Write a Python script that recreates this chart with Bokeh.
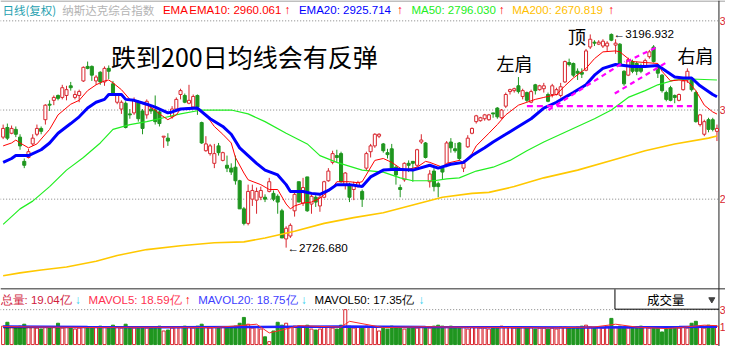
from bokeh.plotting import figure
from bokeh.models import Range1d, ColumnDataSource
from bokeh.embed import file_html
from bokeh.resources import INLINE
from bokeh.core.properties import value

# ---------------- data ----------------
open_ = [
    2969.3, 2990.5, 2977.8, 2986.3, 2969.3, 2916.1, 2924.6, 2954.4, 2975.6, 2988.4,
    3007.6, 3041.6, 3050.1, 3060.8, 3056.5, 3060.8, 3082.0, 3056.5, 3060.8, 3092.7,
    3124.6, 3124.6, 3092.7, 3111.8, 3090.5, 3120.3, 3086.3, 3045.9, 3031.0, 3043.7,
    3020.3, 3022.5, 3045.9, 3026.7, 3018.2, 3031.0, 3028.8, 3024.6, 2969.3, 2967.1,
    3013.9, 3031.0, 3062.9, 3060.8, 3043.7, 3035.2, 3060.8, 3001.2, 2939.5, 2933.1,
    2911.8, 2950.1, 2918.2, 2907.5, 2901.2, 2903.3, 2873.5, 2811.8, 2779.9, 2833.1,
    2830.9, 2837.3, 2837.3, 2850.1, 2845.8, 2839.4, 2807.5, 2745.8, 2752.2, 2807.5,
    2871.4, 2824.5, 2882.0, 2822.4, 2837.3, 2818.2, 2837.3, 2873.5, 2913.9, 2928.8,
    2933.1, 2865.0, 2865.0, 2854.3, 2860.7, 2850.1, 2901.2, 2937.3, 2950.1, 2971.4,
    2954.4, 2935.2, 2943.7, 2903.3, 2858.6, 2875.6, 2911.8, 2916.1, 2907.5, 2958.6,
    2956.5, 2871.4, 2894.8, 2867.1, 2901.2, 2907.5, 2958.6, 2943.7, 2956.5, 2901.2,
    2948.0, 2977.8, 3003.3, 3005.4, 3009.7, 3007.6, 3022.5, 3033.1, 3011.8, 3037.3,
    3069.3, 3071.4, 3082.0, 3058.6, 3067.1, 3045.9, 3084.2, 3073.5, 3075.6, 3062.9,
    3062.9, 3062.9, 3060.8, 3090.5, 3133.1, 3131.0, 3113.9, 3111.8, 3116.1, 3167.2,
    3177.8, 3173.5, 3169.3, 3169.3, 3194.8, 3171.4, 3173.5, 3113.9, 3105.4, 3135.2,
    3131.0, 3126.7, 3126.7, 3145.9, 3167.2, 3122.5, 3105.4, 3067.1, 3077.8, 3060.8,
    3050.1, 3073.5, 3094.8, 3094.8, 3067.1, 2996.9, 2975.6, 3007.6, 3007.6, 2982.0,
]
high = [
    2996.9, 2999.1, 2994.8, 2992.7, 2975.6, 2922.4, 2943.7, 2975.6, 2996.9, 2992.7,
    3041.6, 3050.1, 3060.8, 3062.9, 3084.2, 3082.0, 3090.5, 3071.4, 3073.5, 3124.6,
    3135.2, 3126.7, 3105.4, 3113.9, 3124.6, 3126.7, 3092.7, 3065.0, 3050.1, 3048.0,
    3031.0, 3056.5, 3050.1, 3031.0, 3052.2, 3037.3, 3060.8, 3028.8, 2971.4, 2977.8,
    3037.3, 3056.5, 3075.6, 3065.0, 3084.2, 3062.9, 3062.9, 3003.3, 2971.4, 2954.4,
    2954.4, 2956.5, 2937.3, 2928.8, 2911.8, 2928.8, 2875.6, 2816.0, 2865.0, 2865.0,
    2858.6, 2860.7, 2843.7, 2879.9, 2852.2, 2843.7, 2811.8, 2773.5, 2779.9, 2848.0,
    2871.4, 2879.9, 2882.0, 2843.7, 2841.6, 2841.6, 2873.5, 2901.2, 2939.5, 2941.6,
    2937.3, 2892.6, 2869.2, 2871.4, 2873.5, 2854.3, 2937.3, 2954.4, 2977.8, 2977.8,
    2956.5, 2943.7, 2954.4, 2907.5, 2865.0, 2913.9, 2918.2, 2916.1, 2943.7, 2975.6,
    2958.6, 2896.9, 2901.2, 2871.4, 2903.3, 2960.7, 2967.1, 2956.5, 2958.6, 2918.2,
    2973.5, 2990.5, 3018.2, 3013.9, 3020.3, 3020.3, 3022.5, 3035.2, 3031.0, 3067.1,
    3075.6, 3077.8, 3101.2, 3075.6, 3069.3, 3073.5, 3086.3, 3084.2, 3088.4, 3067.1,
    3086.3, 3077.8, 3088.4, 3137.4, 3141.6, 3133.1, 3120.3, 3120.3, 3162.9, 3194.8,
    3182.1, 3182.1, 3184.2, 3179.9, 3196.932, 3184.2, 3175.7, 3116.1, 3143.7, 3139.5,
    3135.2, 3131.0, 3141.6, 3160.8, 3171.4, 3128.8, 3107.6, 3071.4, 3082.0, 3062.9,
    3065.0, 3099.1, 3120.3, 3099.1, 3071.4, 3020.3, 3007.6, 3011.8, 3011.8, 2996.9,
]
low = [
    2965.0, 2962.9, 2975.6, 2969.3, 2941.6, 2901.2, 2922.4, 2950.1, 2971.4, 2975.6,
    2996.9, 3026.7, 3039.5, 3050.1, 3052.2, 3050.1, 3071.4, 3052.2, 3045.9, 3090.5,
    3118.2, 3092.7, 3084.2, 3084.2, 3082.0, 3096.9, 3060.8, 3041.6, 3020.3, 2988.4,
    3009.7, 3018.2, 3003.3, 2975.6, 3009.7, 3020.3, 2996.9, 2992.7, 2945.8, 2950.1,
    3009.7, 3026.7, 3052.2, 3043.7, 3041.6, 3031.0, 3018.2, 2954.4, 2937.3, 2928.8,
    2901.2, 2928.8, 2916.1, 2892.6, 2886.3, 2865.0, 2811.8, 2775.6, 2775.6, 2818.2,
    2801.1, 2830.9, 2826.7, 2848.0, 2828.8, 2801.1, 2747.9, 2726.68, 2747.9, 2794.8,
    2826.7, 2818.2, 2805.4, 2801.1, 2816.0, 2805.4, 2835.2, 2871.4, 2909.7, 2913.9,
    2869.2, 2854.3, 2826.7, 2830.9, 2858.6, 2816.0, 2894.8, 2924.6, 2945.8, 2967.1,
    2935.2, 2922.4, 2896.9, 2865.0, 2837.3, 2871.4, 2892.6, 2871.4, 2903.3, 2954.4,
    2922.4, 2858.6, 2850.1, 2837.3, 2875.6, 2903.3, 2935.2, 2935.2, 2918.2, 2892.6,
    2945.8, 2975.6, 2999.1, 3003.3, 3005.4, 3005.4, 3011.8, 3009.7, 3009.7, 3033.1,
    3062.9, 3067.1, 3065.0, 3052.2, 3045.9, 3043.7, 3062.9, 3071.4, 3067.1, 3045.9,
    3056.5, 3060.8, 3056.5, 3088.4, 3124.6, 3101.2, 3094.8, 3099.1, 3113.9, 3162.9,
    3169.3, 3171.4, 3165.0, 3158.6, 3179.9, 3152.3, 3124.6, 3082.0, 3103.3, 3109.7,
    3105.4, 3109.7, 3124.6, 3141.6, 3133.1, 3099.1, 3067.1, 3048.0, 3048.0, 3043.7,
    3048.0, 3071.4, 3088.4, 3069.3, 3001.2, 2992.7, 2971.4, 2979.9, 2982.0, 2960.7,
]
close = [
    2988.4, 2967.1, 2988.4, 2975.6, 2950.1, 2907.5, 2937.3, 2967.1, 2988.4, 2982.0,
    3039.5, 3039.5, 3056.5, 3054.4, 3077.8, 3073.5, 3077.8, 3062.9, 3069.3, 3122.5,
    3120.3, 3105.4, 3101.2, 3090.5, 3120.3, 3113.9, 3065.0, 3060.8, 3045.9, 2990.5,
    3018.2, 3050.1, 3009.7, 2988.4, 3048.0, 3026.7, 3003.3, 2999.1, 2971.4, 2960.7,
    3031.0, 3052.2, 3071.4, 3045.9, 3050.1, 3058.6, 3035.2, 2956.5, 2954.4, 2950.1,
    2933.1, 2935.2, 2935.2, 2901.2, 2892.6, 2873.5, 2811.8, 2779.9, 2850.1, 2852.2,
    2850.1, 2852.2, 2833.1, 2871.4, 2833.1, 2826.7, 2747.9, 2769.2, 2775.6, 2843.7,
    2826.7, 2858.6, 2807.5, 2839.4, 2826.7, 2837.3, 2871.4, 2894.8, 2933.1, 2924.6,
    2871.4, 2890.5, 2837.3, 2865.0, 2869.2, 2833.1, 2933.1, 2950.1, 2975.6, 2975.6,
    2939.5, 2930.9, 2901.2, 2886.3, 2854.3, 2911.8, 2907.5, 2911.8, 2941.6, 2962.9,
    2924.6, 2888.4, 2860.7, 2860.7, 2892.6, 2956.5, 2945.8, 2939.5, 2922.4, 2911.8,
    2967.1, 2988.4, 3016.1, 3011.8, 3018.2, 3018.2, 3020.3, 3013.9, 3028.8, 3062.9,
    3073.5, 3075.6, 3069.3, 3071.4, 3050.1, 3069.3, 3071.4, 3082.0, 3082.0, 3048.0,
    3082.0, 3073.5, 3079.9, 3135.2, 3128.8, 3105.4, 3109.7, 3107.6, 3158.6, 3184.2,
    3175.7, 3177.8, 3179.9, 3175.7, 3182.1, 3175.7, 3126.7, 3086.3, 3139.5, 3113.9,
    3113.9, 3113.9, 3137.4, 3156.5, 3135.2, 3109.7, 3071.4, 3052.2, 3050.1, 3056.5,
    3062.9, 3092.7, 3113.9, 3073.5, 3003.3, 3018.2, 3003.3, 2986.3, 2986.3, 2988.4,
]
# volume in 亿
volume = [
    19, 23, 18, 17, 19, 21, 18, 18, 17, 16,
    18, 17, 18, 22, 17, 18, 17, 16, 17, 18,
    17, 18, 18, 19, 18, 17, 20, 18, 17, 21,
    17, 17, 18, 18, 17, 18, 18, 19, 14, 15,
    17, 18, 18, 19, 18, 17, 19, 21, 18, 17,
    18, 17, 18, 17, 18, 19, 22, 28, 21, 17,
    18, 16, 8, 3, 14, 23, 20, 22, 18, 19,
    19, 18, 20, 16, 15, 16, 18, 18, 17, 16,
    20, 36, 19, 17, 18, 17, 19, 18, 18, 14,
    17, 16, 19, 18, 17, 16, 17, 18, 17, 18,
    18, 17, 19, 20, 19, 18, 19, 18, 17, 18,
    16, 18, 18, 17, 17, 16, 18, 17, 19, 18,
    18, 17, 18, 18, 17, 18, 16, 17, 17, 16,
    17, 16, 18, 18, 17, 17, 18, 19, 20, 18,
    17, 18, 17, 19, 27, 18, 19, 18, 17, 17,
    18, 19, 18, 17, 18, 17, 13, 18, 18, 17,
    17, 18, 17, 22, 24, 18, 17, 20, 18, 19,
]

# moving-average lines read at selected bars
ema10_idx = [0, 2, 3, 4, 6, 8, 9, 11, 13, 16, 18, 20, 22, 24, 25, 26, 28, 30, 32, 34, 36, 37, 39, 41, 42, 45, 48, 50,
             52, 54, 55, 57, 58, 61, 63, 65, 67, 68, 69, 71, 73, 75, 78, 79, 82, 84, 85, 88, 90, 92, 94, 95, 98, 100,
             101, 104, 105, 108, 109, 111, 112, 115, 117, 119, 122, 124, 126, 128, 131, 133, 135, 138, 140, 142, 145,
             146, 148, 149, 152, 155, 156, 158, 160, 162, 164, 166, 168, 169]
ema10_val = [2950.1, 2956.5, 2962.9, 2956.5, 2945.8, 2954.4, 2965.0, 2986.3, 3018.2, 3041.6, 3050.1, 3071.4, 3084.2,
             3092.7, 3094.8, 3088.4, 3073.5, 3052.2, 3045.9, 3039.5, 3028.8, 3020.3, 3007.6, 3018.2, 3031.0, 3035.2,
             3018.2, 2992.7, 2975.6, 2956.5, 2924.6, 2890.5, 2875.6, 2865.0, 2854.3, 2854.3, 2822.4, 2811.8, 2818.2,
             2824.5, 2826.7, 2835.2, 2858.6, 2871.4, 2871.4, 2869.2, 2871.4, 2918.2, 2922.4, 2913.9, 2901.2, 2896.9,
             2903.3, 2916.1, 2913.9, 2903.3, 2911.8, 2918.2, 2913.9, 2933.1, 2950.1, 2977.8, 2996.9, 3018.2, 3039.5,
             3045.9, 3052.2, 3056.5, 3062.9, 3082.0, 3099.1, 3120.3, 3141.6, 3156.5, 3158.6, 3156.5, 3141.6, 3135.2,
             3133.1, 3131.0, 3113.9, 3092.7, 3094.8, 3092.7, 3071.4, 3039.5, 3024.6, 3020.0]
ema20_idx = [0, 2, 3, 6, 9, 11, 13, 16, 18, 20, 22, 24, 25, 28, 29, 31, 34, 36, 39, 40, 42, 46, 49, 52, 54, 56, 58,
             60, 62, 65, 67, 68, 71, 73, 75, 77, 79, 82, 85, 87, 90, 93, 97, 101, 103, 106, 109, 111, 114, 116, 119,
             122, 125, 128, 131, 133, 135, 138, 140, 142, 145, 147, 149, 152, 155, 157, 159, 161, 163, 165, 168, 169]
ema20_val = [2913.9, 2922.4, 2928.8, 2928.8, 2941.6, 2956.5, 2977.8, 2999.1, 3013.9, 3033.1, 3045.9, 3052.2, 3062.9,
             3062.9, 3052.2, 3050.1, 3041.6, 3035.2, 3022.5, 3024.6, 3031.0, 3033.1, 3009.7, 2992.7, 2975.6, 2945.8,
             2928.8, 2911.8, 2896.9, 2886.3, 2865.0, 2850.1, 2850.1, 2845.8, 2843.7, 2852.2, 2865.0, 2865.0, 2860.7,
             2882.0, 2896.9, 2899.0, 2896.9, 2907.5, 2901.2, 2909.7, 2913.9, 2928.8, 2945.8, 2958.6, 2975.6, 2992.7,
             3009.7, 3033.1, 3045.9, 3056.5, 3067.1, 3084.2, 3105.4, 3120.3, 3128.8, 3126.7, 3124.6, 3124.6, 3126.7,
             3113.9, 3101.2, 3099.1, 3099.1, 3082.0, 3062.9, 3058.0]
ma50_idx = [0, 4, 7, 11, 15, 19, 23, 26, 30, 34, 38, 42, 47, 54, 58, 62, 67, 72, 75, 79, 85, 90, 94, 97, 102, 105,
            108, 112, 116, 120, 124, 128, 132, 136, 140, 144, 148, 152, 155, 159, 163, 169]
ma50_val = [2777.7, 2811.8, 2828.8, 2860.7, 2896.9, 2924.6, 2956.5, 2986.3, 2996.9, 3003.3, 3011.8, 3020.3, 3028.8,
            3028.8, 3020.3, 3003.3, 2977.8, 2954.4, 2928.8, 2913.9, 2896.9, 2892.6, 2879.9, 2873.5, 2873.5, 2877.7,
            2879.9, 2894.8, 2903.3, 2918.2, 2939.5, 2958.6, 2975.6, 2992.7, 3009.7, 3028.8, 3056.5, 3071.4, 3084.2,
            3094.8, 3096.9, 3094.8]
ma200_idx = [0, 4, 9, 15, 22, 27, 34, 42, 50, 57, 62, 69, 76, 83, 90, 97, 104, 111, 115, 121, 128, 136, 144, 152,
             159, 167, 169]
ma200_val = [2665.0, 2671.3, 2677.7, 2684.1, 2696.9, 2709.6, 2722.4, 2730.9, 2737.3, 2739.4, 2747.9, 2762.8, 2779.9,
             2792.6, 2803.3, 2820.3, 2837.3, 2845.8, 2848.0, 2860.7, 2879.9, 2896.9, 2918.2, 2939.5, 2954.4, 2967.1,
             2972.0]

mavol5_idx = [0, 10, 20, 30, 40, 50, 56, 60, 63, 66, 70, 80, 82, 90, 100, 110, 120, 130, 140, 145, 150, 157, 160, 166, 169]
mavol5_val = [18.6, 18.0, 17.6, 17.8, 17.8, 17.6, 19.5, 21.0, 12.0, 15.0, 19.5, 18.0, 24.0, 17.5, 18.4, 17.8, 17.6,
              17.2, 18.2, 21.0, 18.0, 16.5, 17.5, 20.0, 19.5]
mavol20_idx = [0, 20, 40, 60, 80, 100, 120, 140, 160, 169]
mavol20_val = [18.75, 18.0, 17.8, 18.2, 18.6, 18.0, 17.9, 17.6, 18.0, 18.4]
mavol50_idx = [0, 40, 80, 120, 169]
mavol50_val = [17.35, 17.8, 17.9, 17.6, 17.7]

price_grid = [3224.6, 3028.8, 2833.1]
price_grid_marks = ["3", "3", "2"]
vol_grid = [36.0]
vol_marks_at = [36.0, 18.0]
vol_marks = ["3", "1"]

hi_idx, hi_val = 144, 3196.932
lo_idx, lo_val = 67, 2726.680

neck_x = [124.0, 163.1]
neck_y = [3037.3, 3037.3]
chan_x0 = [129.1, 144.8, 147.6]
chan_y0 = [3028.8, 3065.0, 3135.2]
chan_x1 = [147.2, 157.4, 155.3]
chan_y1 = [3135.2, 3135.2, 3169.3]

# ---------------- layout ----------------
W, H = 725, 346
RW, RH = 741, 357  # layout space (px)
BORDER_PX = 734.3
BORDER_I = 169.46

RED = "#d8262e"
GREEN = "#1f961f"

p = figure(width=W, height=H, output_backend="svg", toolbar_location=None,
           x_range=Range1d(-0.6254, 171.02), y_range=Range1d(2509.6, 3269.3),
           x_axis_location=None, y_axis_location=None, min_border=0,
           outline_line_color=None, background_fill_color="white", border_fill_color="white")
p.grid.visible = False
p.extra_x_ranges = {"px": Range1d(0, RW)}
p.extra_y_ranges = {"py": Range1d(RH, 0), "vol": Range1d(-2, 355)}

LAT = "Liberation Sans"
CJK = "Noto Sans CJK SC"


def ptext(xs, ys, texts, colors, size, font=LAT, align="left", baseline="middle", style="normal"):
    src = ColumnDataSource(dict(x=xs, y=ys, t=texts, c=colors))
    p.text(x="x", y="y", text="t", text_color="c", source=src, x_range_name="px", y_range_name="py",
           text_font=value(font), text_font_size=value(size), text_align=align,
           text_baseline=baseline, text_font_style=style)


# frame lines
p.segment(x0=[0, 0, BORDER_PX], y0=[0.5, 297.5, 0], x1=[741, 741, BORDER_PX], y1=[0.5, 297.5, 357],
          line_color=["#808080", "#707070", "#202020"], line_width=[1.2, 1.5, 1],
          x_range_name="px", y_range_name="py")

# dotted grid
p.segment(x0=[-0.7] * len(price_grid), x1=[BORDER_I] * len(price_grid), y0=price_grid, y1=price_grid,
          line_color="#808080", line_width=1, line_dash="1 2")
p.segment(x0=[-0.7] * len(vol_grid), x1=[BORDER_I] * len(vol_grid), y0=vol_grid, y1=vol_grid,
          line_color="#808080", line_width=1, line_dash="1 2", y_range_name="vol")

# candles
n = len(close)
idx = list(range(n))
up = [c >= o for o, c in zip(open_, close)]
src = ColumnDataSource(dict(
    x=idx, h=high, l=low,
    top=[max(a, b) for a, b in zip(open_, close)],
    bot=[min(a, b) for a, b in zip(open_, close)],
    col=[RED if u else GREEN for u in up],
    fill=["white" if u else GREEN for u in up],
    vol=volume,
))
p.segment(x0="x", y0="l", x1="x", y1="h", line_color="col", line_width=1, source=src)
p.vbar(x="x", width=0.72, top="top", bottom="bot", fill_color="fill", line_color="col", line_width=1, source=src)

# volume bars
p.vbar(x="x", width=0.72, top="vol", bottom=0, fill_color="fill", line_color="col", line_width=1,
       source=src, y_range_name="vol")
p.line(mavol50_idx, mavol50_val, line_color="#000000", line_width=1, y_range_name="vol")
p.line(mavol20_idx, mavol20_val, line_color="#2020ff", line_width=2.5, y_range_name="vol")
p.line(mavol5_idx, mavol5_val, line_color="#ff2a2a", line_width=1, y_range_name="vol")

# moving averages
p.line(ma200_idx, ma200_val, line_color="#ffc800", line_width=1.6)
p.line(ma50_idx, ma50_val, line_color="#22ee22", line_width=1.2)
p.line(ema10_idx, ema10_val, line_color="#ff0000", line_width=1)
p.line(ema20_idx, ema20_val, line_color="#0000ff", line_width=3)

# pattern annotations (magenta dashed)
p.line(neck_x, neck_y, line_color="#ff00ff", line_width=2.2, line_dash="6 4")
p.segment(x0=chan_x0, y0=chan_y0, x1=chan_x1, y1=chan_y1, line_color="#ff00ff", line_width=2.2, line_dash="5 4")

# high / low marks
p.text(x=[hi_idx + 0.5], y=[hi_val], text=["\u2190" + f"{hi_val:.3f}"], text_color="#000000",
       text_font=value(LAT), text_font_size=value("11.7px"), text_baseline="middle", text_align="left")
p.text(x=[lo_idx + 0.3], y=[lo_val], text=["\u2190" + f"{lo_val:.3f}"], text_color="#000000",
       text_font=value(LAT), text_font_size=value("11.7px"), text_baseline="middle", text_align="left")

# header row (price panel)
ptext([2], [10], ["日线(复权)"], ["#1f9fb0"], "11.5px", font=CJK)
ptext([63], [10], ["纳斯达克综合指数"], ["#b4b4b4"], "11.5px", font=CJK)
ptext([166, 193, 305, 420, 523],
      [10] * 5,
      ["EMA", "EMA10: 2960.061", "EMA20: 2925.714", "MA50: 2796.030", "MA200: 2670.819"],
      ["#ff0000", "#ff0000", "#0000ff", "#22ee22", "#ffc000"], "11.5px")
ptext([290, 405, 509, 621], [10] * 4, ["\u2191"] * 4, ["#ff0000"] * 4, "12px", style="bold")

# header row (volume panel)
ptext([0, 90, 202, 321],
      [309] * 4,
      ["总量: 19.04亿", "MAVOL5: 18.59亿", "MAVOL20: 18.75亿", "MAVOL50: 17.35亿"],
      ["#d0203c", "#ff3050", "#4040ff", "#000000"], "11.5px")
ptext([76, 188, 307, 427], [309] * 4, ["\u2193", "\u2191", "\u2193", "\u2193"],
      ["#30d0f0", "#ff0000", "#30d0f0", "#30d0f0"], "12px", style="bold")

# 成交量 selector box
p.segment(x0=[628, 628], y0=[298, 318.5], x1=[628, BORDER_PX], y1=[318.5, 318.5], line_color="#000000",
          line_width=1, x_range_name="px", y_range_name="py")
ptext([680], [308], ["成交量"], ["#000000"], "12.5px", font=CJK, align="center")
p.scatter(x=[727], y=[308.5], marker="inverted_triangle", size=6, color="#404040",
          x_range_name="px", y_range_name="py")

# right-hand axis marks (only their first digit shows in the window)
p.text(x=[BORDER_I + 0.2] * len(price_grid), y=price_grid, text=price_grid_marks, text_color=RED,
       text_font=value(LAT), text_font_size=value("10.5px"), text_baseline="middle", text_align="left")
p.text(x=[BORDER_I + 0.2] * len(vol_marks), y=vol_marks_at, text=vol_marks, text_color=RED,
       text_font=value(LAT), text_font_size=value("10.5px"), text_baseline="middle", text_align="left",
       y_range_name="vol")

# chart annotations
ptext([113], [57], ["跌到200日均线会有反弹"], ["#000000"], "25px", font=CJK)
ptext([507], [64], ["左肩"], ["#000000"], "18px", font=CJK)
ptext([580], [37], ["顶"], ["#000000"], "18px", font=CJK)
ptext([692], [56], ["右肩"], ["#000000"], "18px", font=CJK)

open("out.html", "w").write(file_html(p, INLINE))
